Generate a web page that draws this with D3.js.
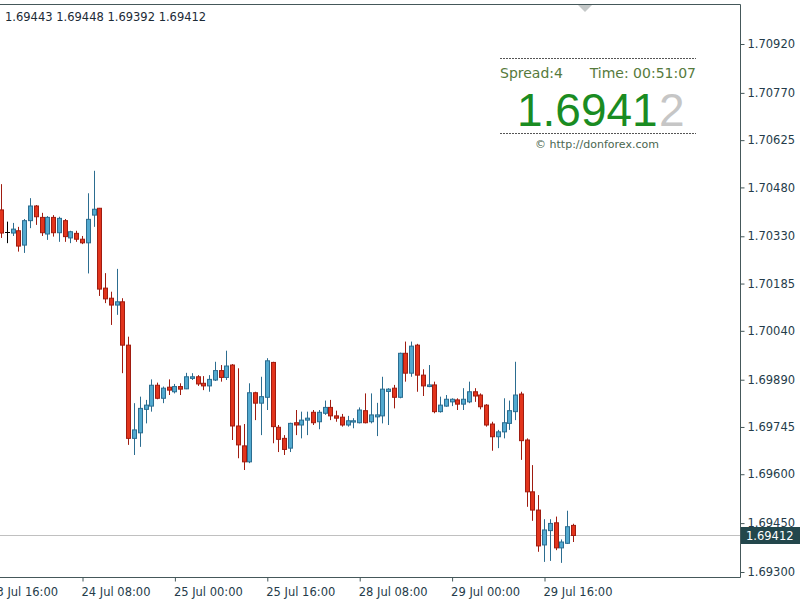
<!DOCTYPE html>
<html><head><meta charset="utf-8">
<script src="https://cdn.jsdelivr.net/npm/d3@7"></script>
<style>body{margin:0;background:#fff}svg{display:block}</style>
</head><body>
<svg id="c" width="800" height="600"></svg>
<script>
// H1 bars, first bar = 23 Jul 18:00
const openP = [1.70411,1.70344,1.70340,1.70347,1.70303,1.70378,1.70423,1.70388,1.70337,1.70388,1.70341,1.70378,1.70325,1.70339,1.70321,1.70310,1.70395,1.70416,1.70171,1.70140,
1.70119,1.70129,1.69996,1.69710,1.69727,1.69799,1.69809,1.69873,1.69833,1.69867,1.69853,1.69869,1.69862,1.69894,1.69899,1.69879,1.69871,1.69889,1.69918,1.69897,
1.69935,1.69748,1.69687,1.69638,1.69850,1.69818,1.69836,1.69943,1.69744,1.69710,1.69680,1.69758,1.69751,1.69766,1.69790,1.69761,1.69787,1.69805,1.69779,1.69775,
1.69751,1.69760,1.69758,1.69795,1.69761,1.69776,1.69779,1.69854,1.69864,1.69836,1.69971,1.69910,1.69996,1.69904,1.69869,1.69874,1.69792,1.69809,1.69822,1.69828,
1.69815,1.69822,1.69853,1.69843,1.69812,1.69754,1.69715,1.69730,1.69756,1.69792,1.69846,1.69705,1.69546,1.69490,1.69383,1.69427,1.69451,1.69374,1.69388,1.69443];
const highP = [1.70490,1.70375,1.70371,1.70359,1.70383,1.70447,1.70426,1.70402,1.70392,1.70395,1.70390,1.70383,1.70347,1.70347,1.70331,1.70462,1.70531,1.70417,1.70217,1.70160,
1.70230,1.70140,1.70022,1.69818,1.69838,1.69828,1.69891,1.69881,1.69869,1.69891,1.69877,1.69879,1.69911,1.69910,1.69904,1.69901,1.69904,1.69945,1.69935,1.69979,
1.69938,1.69925,1.69754,1.69879,1.69853,1.69899,1.69956,1.69945,1.69751,1.69720,1.69758,1.69797,1.69792,1.69792,1.69797,1.69797,1.69826,1.69828,1.69795,1.69785,
1.69779,1.69772,1.69805,1.69848,1.69848,1.69819,1.69899,1.69864,1.69874,1.69973,1.70007,1.70007,1.70000,1.69922,1.69935,1.69884,1.69838,1.69843,1.69833,1.69833,
1.69864,1.69884,1.69864,1.69848,1.69815,1.69761,1.69736,1.69833,1.69826,1.69945,1.69853,1.69710,1.69628,1.69536,1.69462,1.69462,1.69470,1.69400,1.69488,1.69448];
const lowP = [1.70325,1.70309,1.70331,1.70283,1.70279,1.70355,1.70365,1.70331,1.70319,1.70329,1.70313,1.70313,1.70309,1.70313,1.70306,1.70216,1.70359,1.70147,1.70125,1.70058,
1.70089,1.69910,1.69690,1.69659,1.69684,1.69756,1.69792,1.69830,1.69818,1.69843,1.69848,1.69843,1.69861,1.69889,1.69871,1.69858,1.69853,1.69886,1.69884,1.69889,
1.69705,1.69649,1.69613,1.69634,1.69766,1.69720,1.69797,1.69695,1.69668,1.69659,1.69668,1.69720,1.69710,1.69720,1.69751,1.69738,1.69782,1.69766,1.69761,1.69746,
1.69746,1.69741,1.69756,1.69756,1.69756,1.69717,1.69756,1.69751,1.69802,1.69833,1.69884,1.69899,1.69853,1.69840,1.69867,1.69787,1.69789,1.69807,1.69809,1.69797,
1.69797,1.69818,1.69822,1.69799,1.69746,1.69672,1.69680,1.69710,1.69736,1.69766,1.69644,1.69500,1.69457,1.69362,1.69331,1.69334,1.69367,1.69328,1.69386,1.69392];
const closeP = [1.70340,1.70344,1.70352,1.70300,1.70378,1.70423,1.70390,1.70341,1.70388,1.70341,1.70385,1.70329,1.70344,1.70321,1.70310,1.70382,1.70413,1.70168,1.70138,1.70119,
1.70129,1.69996,1.69710,1.69736,1.69802,1.69812,1.69873,1.69833,1.69864,1.69858,1.69869,1.69861,1.69899,1.69899,1.69877,1.69871,1.69891,1.69918,1.69897,1.69932,
1.69748,1.69690,1.69638,1.69850,1.69818,1.69838,1.69948,1.69746,1.69707,1.69676,1.69756,1.69751,1.69766,1.69772,1.69758,1.69790,1.69805,1.69779,1.69772,1.69751,
1.69764,1.69764,1.69797,1.69758,1.69782,1.69782,1.69861,1.69861,1.69836,1.69971,1.69910,1.69993,1.69904,1.69871,1.69874,1.69792,1.69812,1.69830,1.69830,1.69815,
1.69830,1.69853,1.69840,1.69807,1.69751,1.69715,1.69730,1.69758,1.69795,1.69843,1.69703,1.69546,1.69490,1.69380,1.69429,1.69449,1.69374,1.69392,1.69439,1.69412];

const xTickBars = [-2, 14, 30, 46, 62, 78, 94];
const xTickLabels = ["23 Jul 16:00","24 Jul 08:00","25 Jul 00:00","25 Jul 16:00","28 Jul 08:00","29 Jul 00:00","29 Jul 16:00"];
const yTickValues = [1.70920,1.70770,1.70625,1.70480,1.70330,1.70185,1.70040,1.69890,1.69745,1.69600,1.69450,1.69300];
const headerValues = [1.69443, 1.69448, 1.69392, 1.69412];
const lastPrice = 1.69412;
const spreadText = "Spread:4";
const timeText = "Time: 00:51:07";
const bigMain = "1.6941";
const bigLast = "2";
const copyText = "© http://donforex.com";

const FONT = "DejaVu Sans, Verdana, sans-serif";
const svg = d3.select("#c");
svg.append("rect").attr("width",800).attr("height",600).attr("fill","#fff");

const x = d3.scaleLinear().domain([14, 94]).range([82, 544]);
const y = d3.scaleLinear().domain([1.69300, 1.70920]).range([572, 44]);
const fmt = d3.format(".5f");

svg.append("clipPath").attr("id","plot").append("rect")
  .attr("x",0).attr("y",5).attr("width",740).attr("height",572);

// current price line
const plot = svg.append("g").attr("clip-path","url(#plot)");
plot.append("line").attr("x1",0).attr("x2",740)
  .attr("y1",Math.round(y(lastPrice))+0.5).attr("y2",Math.round(y(lastPrice))+0.5)
  .attr("stroke","#c0c0c0").attr("stroke-width",1);

const bars = d3.range(openP.length).map(i => ({i, o:openP[i], h:highP[i], l:lowP[i], c:closeP[i]}));
const col = d => d.c > d.o ? {fill:"#52a9cf", stroke:"#2c6d90"} : d.c < d.o ? {fill:"#e2341c", stroke:"#a01c10"} : {fill:"#000", stroke:"#000"};

const g = plot.selectAll("g.bar").data(bars).join("g").attr("class","bar");
g.append("line")
  .attr("x1", d => Math.round(x(d.i))+0.5).attr("x2", d => Math.round(x(d.i))+0.5)
  .attr("y1", d => y(d.h)).attr("y2", d => y(d.l))
  .attr("stroke", d => col(d).stroke).attr("stroke-width",1);
g.filter(d => d.c !== d.o).append("rect")
  .attr("x", d => Math.round(x(d.i))-1.5).attr("width",4)
  .attr("y", d => y(Math.max(d.o,d.c)))
  .attr("height", d => Math.max(1, Math.abs(y(d.o)-y(d.c))))
  .attr("fill", d => col(d).fill).attr("stroke", d => col(d).stroke).attr("stroke-width",1);
g.filter(d => d.c === d.o).append("line")
  .attr("x1", d => Math.round(x(d.i))-2).attr("x2", d => Math.round(x(d.i))+3)
  .attr("y1", d => Math.round(y(d.o))+0.5).attr("y2", d => Math.round(y(d.o))+0.5)
  .attr("stroke","#000").attr("stroke-width",1);

// frame
const frameCol = "#45585a";
svg.append("path").attr("d","M0,4.5H740.5V577.5H0").attr("fill","none").attr("stroke",frameCol).attr("stroke-width",1);

// y axis
const yAxis = svg.append("g").attr("transform","translate(740.5,0)")
  .call(d3.axisRight(y).tickValues(yTickValues).tickFormat(fmt).tickSize(4).tickPadding(3));
yAxis.select(".domain").remove();
yAxis.selectAll("line").attr("stroke",frameCol);
yAxis.selectAll("text").attr("fill","#253c4a").style("font-family",FONT).style("font-size","11.5px");

// x axis
const xAxis = svg.append("g").attr("transform","translate(0,577.5)")
  .call(d3.axisBottom(x).tickValues(xTickBars).tickFormat((d,i)=>xTickLabels[i]).tickSize(4).tickPadding(6));
xAxis.select(".domain").remove();
xAxis.selectAll("line").attr("stroke",frameCol).attr("transform","translate(0.5,0)");
xAxis.selectAll("text").attr("fill","#253c4a").attr("text-anchor","start").attr("dx","-1")
  .style("font-family",FONT).style("font-size","11.5px");

// price label
const py = Math.round(y(lastPrice));
svg.append("rect").attr("x",741).attr("y",py-8).attr("width",59).attr("height",17).attr("fill","#23474c");
svg.append("text").attr("x",746).attr("y",py+4.5).text(fmt(lastPrice))
  .attr("fill","#fff").style("font-family",FONT).style("font-size","11.5px");

// header
svg.append("text").attr("x",5).attr("y",21).text(headerValues.map(fmt).join(" "))
  .attr("fill","#1c2a36").style("font-family",FONT).style("font-size","11.5px");

// shift marker
svg.append("path").attr("d","M578,5L592,5L585,12Z").attr("fill","#c4c8c8");

// info box
const box = svg.append("g");
[58.5, 133.5].forEach(yy => box.append("line").attr("x1",500).attr("x2",696).attr("y1",yy).attr("y2",yy)
  .attr("stroke","#555").attr("stroke-dasharray","2,1"));
box.append("text").attr("x",500).attr("y",78).text(spreadText)
  .attr("fill","#567a3c").style("font-family",FONT).style("font-size","14px");
box.append("text").attr("x",696).attr("y",78).attr("text-anchor","end").text(timeText)
  .attr("fill","#567a3c").style("font-family",FONT).style("font-size","14px");
const bigFont = "Liberation Sans, Arial, sans-serif";
box.append("text").attr("x",517).attr("y",126).text(bigMain)
  .attr("fill","#1a8c22").style("font-family",bigFont).style("font-size","46px");
box.append("text").attr("x",659).attr("y",126).text(bigLast)
  .attr("fill","#c6c6c6").style("font-family",bigFont).style("font-size","46px");
box.append("text").attr("x",597).attr("y",148).attr("text-anchor","middle").text(copyText)
  .attr("fill","#4a6650").style("font-family",FONT).style("font-size","11px");
</script>
</body></html>
